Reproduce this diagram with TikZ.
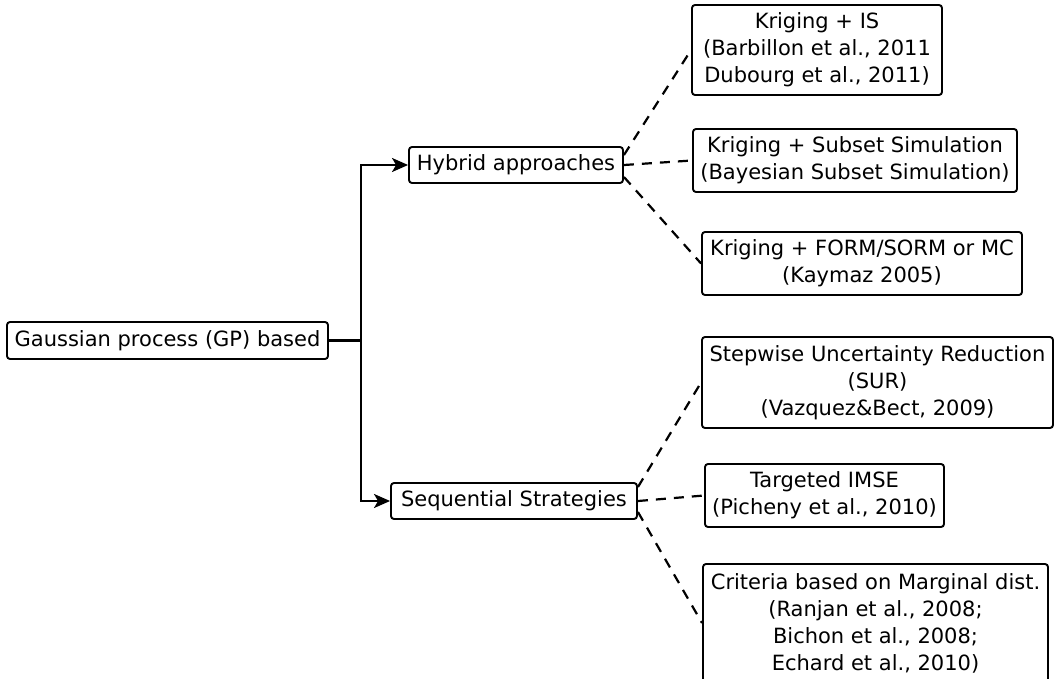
\documentclass[tikz,border=0pt]{standalone}
\usepackage{fontspec}
\setmainfont{DejaVu Sans}
\usetikzlibrary{arrows.meta}
\begin{document}
\begin{tikzpicture}[x=1pt,y=-1pt,
  box/.style={draw, line width=1.9pt, rounded corners=3pt, align=center, inner sep=0pt, font=\fontsize{21}{27}\selectfont},
  dashline/.style={line width=2.2pt, dash pattern=on 10pt off 8pt},
  solidline/.style={line width=2.2pt},
  arr/.style={solidline, -{Stealth[length=16pt,width=14pt,inset=4pt]}}]
\useasboundingbox (0,0) rectangle (1054,679);
\clip (0,0) rectangle (1054,679);
\node[box, minimum width=321pt, minimum height=37pt] (gp) at (167.5,340.5) {Gaussian process (GP) based};
\node[box, minimum width=214pt, minimum height=36pt] (hyb) at (516,165) {Hybrid approaches};
\node[box, minimum width=246pt, minimum height=36pt] (seq) at (514,501) {Sequential Strategies};
\node[box, minimum width=250pt, minimum height=90pt] (kis) at (817,50) {Kriging + IS\\(Barbillon et al., 2011\\Dubourg et al., 2011)};
\node[box, minimum width=324pt, minimum height=63pt] (kss) at (855,160.5) {Kriging + Subset Simulation\\(Bayesian Subset Simulation)};
\node[box, minimum width=320pt, minimum height=63pt] (kfs) at (862,263.5) {Kriging + FORM/SORM or MC\\(Kaymaz 2005)};
\node[box, minimum width=351pt, minimum height=91pt] (sur) at (877.5,382.5) {Stepwise Uncertainty Reduction\\(SUR)\\(Vazquez\&Bect, 2009)};
\node[box, minimum width=239pt, minimum height=63pt] (imse) at (824.5,495.5) {Targeted IMSE\\(Picheny et al., 2010)};
\node[box, minimum width=345pt, minimum height=118pt] (crit) at (875.5,623) {Criteria based on Marginal dist.\\(Ranjan et al., 2008;\\Bichon et al., 2008;\\Echard et al., 2010)};
\draw[solidline] (gp.east) -- ++(32,0) coordinate (j);
\draw[arr] (j) |- (hyb.west);
\draw[arr] (j) |- (seq.west);
\draw[dashline] ([yshift=10pt]hyb.east) -- (kis.west);
\draw[dashline] (hyb.east) -- (kss.west);
\draw[dashline] ([yshift=-12pt]hyb.east) -- (kfs.west);
\draw[dashline] ([yshift=14pt]seq.east) -- (sur.west);
\draw[dashline] (seq.east) -- (imse.west);
\draw[dashline] ([yshift=-11pt]seq.east) -- (crit.west);
\end{tikzpicture}
\end{document}
